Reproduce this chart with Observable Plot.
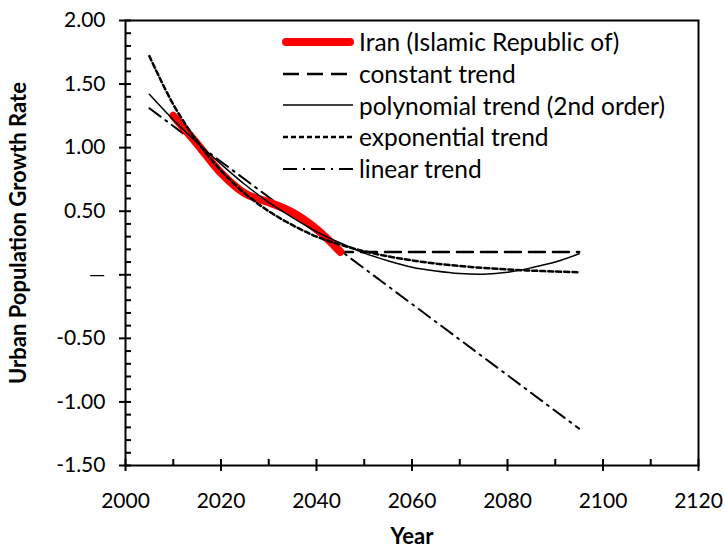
<!DOCTYPE html>
<html>
<head>
<meta charset="utf-8">
<script src="https://cdn.jsdelivr.net/npm/d3@7"></script>
<script src="https://cdn.jsdelivr.net/npm/@observablehq/plot@0.6"></script>
<style>
  body { margin: 0; background: white; }
  #wrap { position: relative; width: 725px; height: 550px; font-family: Lato, "Open Sans", sans-serif; }
  #legend { position: absolute; left: 281px; top: 26px; }
  .row { display: flex; align-items: center; height: 31.7px; font-size: 24.5px; color: black; white-space: nowrap; }
  .row svg { width: 74px; height: 20px; margin-right: 4px; flex: none; }
</style>
</head>
<body>
<div id="wrap"></div>
<script>
// Observed series (Iran, urban population growth rate)
const iranYears = [2010, 2015, 2020, 2025, 2030, 2035, 2040, 2045];
const iranValues = [1.25, 1.03, 0.80, 0.64, 0.57, 0.49, 0.36, 0.18];

// Trend lines sampled every 5 years, 2005-2095
const trendYears = [2005, 2010, 2015, 2020, 2025, 2030, 2035, 2040, 2045, 2050,
                    2055, 2060, 2065, 2070, 2075, 2080, 2085, 2090, 2095];
const polyTrend = [1.42, 1.22, 1.04, 0.87, 0.71, 0.57, 0.45, 0.34, 0.25, 0.17,
                   0.11, 0.06, 0.03, 0.01, 0.005, 0.02, 0.055, 0.10, 0.165];
const expTrend = [1.72, 1.34, 1.05, 0.82, 0.64, 0.50, 0.39, 0.30, 0.237, 0.185,
                  0.145, 0.113, 0.088, 0.069, 0.054, 0.042, 0.033, 0.026, 0.020];

const constantYears = [2010, 2015, 2020, 2025, 2030, 2035, 2040, 2045, 2095];
const constantTrend = [1.25, 1.03, 0.80, 0.64, 0.57, 0.49, 0.36, 0.18, 0.18];

const linearYears = [2005, 2095];
const linearTrend = [1.31, -1.21];

// Axis ticks
const xMajor = [2000, 2020, 2040, 2060, 2080, 2100, 2120];
const xMinor = [2000, 2010, 2020, 2030, 2040, 2050, 2060, 2070, 2080, 2090, 2100, 2110, 2120];
const yMajor = [-1.5, -1.0, -0.5, 0, 0.5, 1.0, 1.5, 2.0];
const yMinor = d3.range(-15, 21).map(i => i / 10);

const seriesNames = ["Iran (Islamic Republic of)", "constant trend", "polynomial trend (2nd order)", "exponential trend", "linear trend"];
const xTitle = "Year";
const yTitle = "Urban Population Growth Rate";

const toRows = (xs, ys) => xs.map((x, i) => ({x, y: ys[i]}));

const W = 725, H = 550, mL = 125, mR = 27, mT = 20, mB = 85;
const pw = W - mL - mR, ph = H - mT - mB;

const chart = Plot.plot({
  width: W, height: H,
  marginLeft: mL, marginRight: mR, marginTop: mT, marginBottom: mB,
  style: {fontFamily: "Lato, 'Open Sans', sans-serif", fontSize: "21px", color: "black", background: "white", overflow: "visible"},
  x: {domain: [2000, 2120]},
  y: {domain: [-1.5, 2]},
  marks: [
    Plot.line(toRows(linearYears, linearTrend), {x: "x", y: "y", stroke: "black", strokeWidth: 2, strokeDasharray: "14,6,2,6"}),
    Plot.line(toRows(constantYears, constantTrend), {x: "x", y: "y", stroke: "black", strokeWidth: 2.5, strokeDasharray: "16,8", curve: "linear"}),
    Plot.line(toRows(iranYears, iranValues), {x: "x", y: "y", stroke: "#ff0000", strokeWidth: 8, strokeLinecap: "round", curve: "catmull-rom"}),
    Plot.line(toRows(trendYears, polyTrend), {x: "x", y: "y", stroke: "black", strokeWidth: 1.5, curve: "catmull-rom"}),
    Plot.line(toRows(trendYears, expTrend), {x: "x", y: "y", stroke: "black", strokeWidth: 2.5, strokeDasharray: "5,3", curve: "catmull-rom"}),
    Plot.frame({stroke: "black", strokeWidth: 2}),
    Plot.tickX(xMinor, {x: d => d, stroke: "black", strokeWidth: 2, insetTop: ph - 6}),
    Plot.tickY(yMinor, {y: d => d, stroke: "black", strokeWidth: 2, insetRight: pw - 6}),
    Plot.axisX({ticks: xMajor, tickSize: 6, tickPadding: 22, strokeWidth: 2, tickFormat: d => String(d), label: null, fontSize: 21}),
    Plot.axisY({ticks: yMajor, tickSize: 6, tickPadding: 14, strokeWidth: 2, tickFormat: d => d === 0 ? "\u2014" : d.toFixed(2), label: null, fontSize: 21}),
    Plot.text([xTitle], {frameAnchor: "bottom", dy: 78, text: d => d, fontWeight: "bold", fontSize: 22}),
    Plot.text([yTitle], {frameAnchor: "left", textAnchor: "middle", dx: -107, dy: -10, rotate: -90, text: d => d, fontWeight: "bold", fontSize: 22})
  ]
});

const wrap = document.getElementById("wrap");
wrap.appendChild(chart);

// Legend (HTML overlay)
const samples = [
  `<line x1="5" y1="10" x2="69" y2="10" stroke="#ff0000" stroke-width="8" stroke-linecap="round"/>`,
  `<line x1="2" y1="10" x2="72" y2="10" stroke="black" stroke-width="2.5" stroke-dasharray="16,8"/>`,
  `<line x1="2" y1="10" x2="72" y2="10" stroke="black" stroke-width="1.5"/>`,
  `<line x1="2" y1="10" x2="72" y2="10" stroke="black" stroke-width="2.5" stroke-dasharray="5,3"/>`,
  `<line x1="2" y1="10" x2="72" y2="10" stroke="black" stroke-width="2" stroke-dasharray="14,6,2,6"/>`
];
const legend = document.createElement("div");
legend.id = "legend";
legend.innerHTML = seriesNames.map((n, i) =>
  `<div class="row"><svg viewBox="0 0 74 20">${samples[i]}</svg><span>${n}</span></div>`).join("");
wrap.appendChild(legend);
</script>
</body>
</html>
